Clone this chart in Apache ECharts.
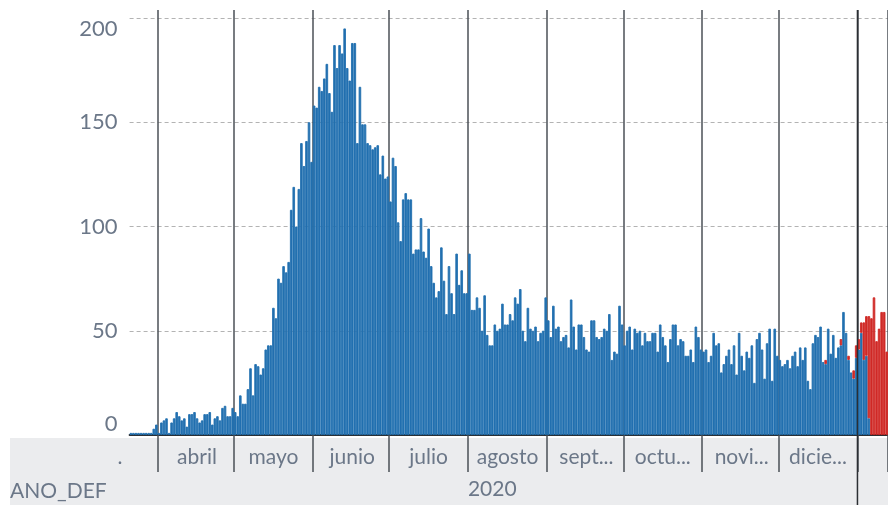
<!DOCTYPE html>
<html>
<head>
<meta charset="utf-8">
<script src="https://cdn.jsdelivr.net/npm/echarts@6/dist/echarts.min.js"></script>
<style>
  body { margin: 0; background: #fff; }
</style>
</head>
<body>
<div id="main" style="width: 888px;height: 505px;"></div>
<script>
  // nombres de los meses en el eje
  let mesNombres = ['.', 'abril', 'mayo', 'junio', 'julio', 'agosto', 'sept...', 'octu...', 'novi...', 'dicie...', '']
  // casos diarios (azul), del 21 de marzo al 12 de enero
  let mar = [1, 1, 1, 1, 1, 1, 1, 1, 1, 3, 5]
  let abr = [1, 6, 7, 8, 1, 6, 8, 11, 9, 7, 8, 4, 10, 10, 11, 8, 6, 7, 10, 10, 11, 5, 8, 9, 7, 13, 14, 9, 9, 13]
  let may = [11, 9, 19, 15, 15, 22, 32, 19, 34, 33, 29, 32, 41, 43, 43, 61, 56, 75, 73, 81, 78, 83, 108, 119, 100, 118, 140, 129, 141, 150, 131]
  let jun = [158, 157, 167, 165, 171, 178, 164, 155, 187, 176, 187, 183, 195, 176, 170, 188, 188, 140, 167, 149, 149, 140, 139, 137, 138, 139, 125, 134, 123, 124]
  let jul = [112, 133, 129, 102, 93, 113, 116, 113, 113, 87, 89, 89, 104, 88, 85, 99, 81, 73, 66, 69, 90, 74, 58, 81, 68, 58, 87, 72, 79, 68, 68]
  let ago = [87, 60, 60, 66, 61, 50, 67, 48, 43, 43, 53, 50, 51, 63, 53, 53, 58, 55, 66, 63, 70, 50, 45, 61, 51, 50, 52, 45, 49, 50, 66]
  let sep = [55, 47, 62, 51, 52, 45, 47, 48, 42, 65, 52, 41, 53, 53, 47, 41, 40, 55, 55, 47, 46, 47, 51, 50, 58, 36, 40, 39, 62, 53]
  let oct = [43, 50, 52, 41, 51, 49, 50, 43, 49, 45, 45, 49, 49, 40, 53, 47, 43, 35, 46, 53, 53, 43, 46, 45, 38, 38, 41, 35, 52, 47, 41]
  let nov = [40, 41, 35, 38, 49, 43, 44, 30, 34, 38, 41, 34, 43, 29, 49, 38, 31, 40, 37, 43, 25, 46, 49, 41, 27, 44, 51, 26, 51, 38]
  let dic = [36, 33, 34, 36, 32, 38, 40, 33, 42, 36, 42, 26, 22, 44, 48, 47, 52, 35, 34, 51, 39, 48, 37, 42, 43, 59, 49, 36, 30, 27, 37]
  let ene = [41, 49, 36, 38, 8, 0, 0, 0, 0, 0, 0, 0]
  // segunda serie (roja), apilada encima
  let rojoDic = [0, 0, 0, 0, 0, 0, 0, 0, 0, 0, 0, 0, 0, 0, 0, 0, 0, 0, 2, 0, 0, 0, 0, 0, 3, 0, 0, 2, 0, 4, 6]
  let rojoEne = [5, 5, 18, 19, 49, 56, 66, 45, 51, 59, 59, 40]
  let yTicks = [0, 50, 100, 150, 200]

  let meses = [mar, abr, may, jun, jul, ago, sep, oct, nov, dic, ene]
  let primerDia = [21, 1, 1, 1, 1, 1, 1, 1, 1, 1, 1]
  let mesNum = [3, 4, 5, 6, 7, 8, 9, 10, 11, 12, 1]

  let dias = []
  let azul = []
  let rojo = []
  let inicioMes = {}   // indices donde empieza un mes
  let etiqueta = {}    // indice -> nombre del mes
  let inicioAnio = 0
  meses.forEach(function (m, k) {
    let anio = k === 10 ? 2021 : 2020
    m.forEach(function (v, d) {
      let dia = primerDia[k] + d
      if (dia === 1) inicioMes[dias.length] = true
      if (dia === 1 && k === 10) inicioAnio = dias.length
      if (d === Math.floor(m.length / 2) && k < 10) etiqueta[dias.length] = mesNombres[k]
      dias.push(anio + '-' + mesNum[k] + '-' + dia)
      azul.push(v === 0 ? null : v)
      let r = k === 9 ? rojoDic[d] : (k === 10 ? rojoEne[d] : 0)
      rojo.push(r === 0 ? null : r)
    })
  })
  let centroAnio = Math.floor(inicioAnio / 2) - 1

  let gris = '#6b7788'
  let linea = '#4b5057'
  let esInicio = function (i) { return !!inicioMes[i] }

  let myChart = echarts.init(document.getElementById('main'))
  myChart.setOption({
    animation: false,
    grid: { left: 129.6, right: -2.4, top: 18, bottom: 70 },
    xAxis: [{
      type: 'category',
      data: dias,
      axisLine: { lineStyle: { color: '#2b2f33', width: 2 } },
      axisTick: { show: true, interval: esInicio, length: 37, lineStyle: { color: linea, width: 1.5 } },
      splitLine: { show: true, interval: esInicio, lineStyle: { color: linea, width: 1.5 } },
      axisLabel: {
        interval: function (i) { return etiqueta[i] !== undefined },
        formatter: function (v, i) { return etiqueta[i] === '.' ? '{dot|.}' : etiqueta[i] },
        rich: { dot: { padding: [0, 47, 0, 0], fontSize: 21, fontFamily: 'Lato', color: gris } },
        color: gris, fontSize: 21, fontFamily: 'Lato', margin: 12
      }
    }, {
      // prolongacion de las lineas de mes por arriba
      type: 'category',
      data: dias,
      position: 'top',
      axisLine: { show: false },
      axisTick: { show: true, interval: esInicio, length: 8, lineStyle: { color: linea, width: 1.5 } },
      axisLabel: { show: false },
      splitLine: { show: false }
    }, {
      // etiqueta del anio
      type: 'category',
      data: dias,
      position: 'bottom',
      axisLine: { show: false },
      axisTick: { show: false },
      axisLabel: {
        interval: function (i) { return i === centroAnio },
        formatter: function () { return '2020' },
        color: gris, fontSize: 21, fontFamily: 'Lato', margin: 44
      },
      splitLine: { show: false }
    }],
    yAxis: {
      type: 'value',
      min: yTicks[0],
      max: yTicks[yTicks.length - 1],
      interval: 50,
      axisLine: { show: false },
      axisTick: { show: false },
      axisLabel: {
        color: gris, fontSize: 22, fontFamily: 'Lato', margin: 12,
        verticalAlignMinLabel: 'bottom', verticalAlignMaxLabel: 'top'
      },
      splitLine: { lineStyle: { color: '#b3b3b3', type: [4, 3], width: 1 } }
    },
    series: [{
      name: 'azul',
      type: 'bar',
      stack: 'casos',
      data: azul,
      barCategoryGap: '0%',
      itemStyle: { color: '#2270b0', borderColor: '#2270b0', borderWidth: 0.9 }
    }, {
      name: 'rojo',
      type: 'bar',
      stack: 'casos',
      data: rojo,
      barCategoryGap: '0%',
      itemStyle: { color: '#d02a27', borderColor: '#d02a27', borderWidth: 0.9 }
    }]
  })

  // banda gris inferior y linea del cambio de anio (posicion sacada del eje)
  let xAnio = (myChart.convertToPixel({ xAxisIndex: 0 }, dias[inicioAnio - 1]) +
    myChart.convertToPixel({ xAxisIndex: 0 }, dias[inicioAnio])) / 2
  myChart.setOption({
    graphic: [
      { type: 'rect', z: -10, shape: { x: 10, y: 438, width: 878, height: 67 }, style: { fill: '#ebecee' } },
      { type: 'text', x: 10, y: 491, style: { text: 'ANO_DEF', fill: gris, font: '21px Lato', verticalAlign: 'middle' } },
      { type: 'line', z: 10, shape: { x1: xAnio, y1: 10, x2: xAnio, y2: 505 }, style: { stroke: '#2b2f33', lineWidth: 1.5 } }
    ]
  })
</script>
</body>
</html>
